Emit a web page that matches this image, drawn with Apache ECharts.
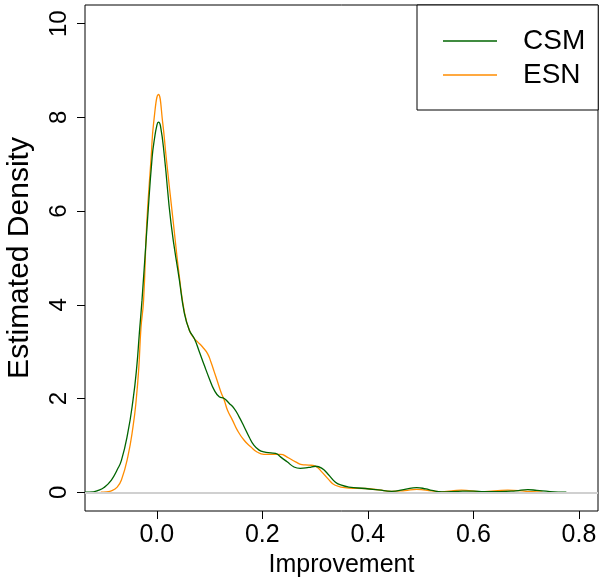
<!DOCTYPE html>
<html>
<head>
<meta charset="utf-8">
<script src="https://cdn.jsdelivr.net/npm/echarts@6/dist/echarts.min.js"></script>
<style>
html,body{margin:0;padding:0;background:#fff;}
#c{width:600px;height:588px;}
</style>
</head>
<body>
<div id="c"></div>
<script>
// ---- data ----
const csmX = [-0.136,-0.12,-0.111,-0.1,-0.086,-0.075,-0.067,-0.055,-0.045,-0.038,-0.033,-0.028,-0.018,-0.0087,-0.0043,0.0,0.003,0.007,0.0145,0.027,0.0428,0.0523,0.0617,0.0711,0.0806,0.09,0.0994,0.1089,0.1183,0.1277,0.137,0.1464,0.156,0.1655,0.175,0.1843,0.194,0.203,0.216,0.225,0.235,0.247,0.26,0.272,0.288,0.301,0.313,0.325,0.338,0.35,0.364,0.395,0.42,0.445,0.47,0.4925,0.51,0.521,0.54,0.571,0.6,0.62,0.65,0.68,0.703,0.72,0.745,0.776];
const csmY = [0,0.01,0.04,0.1,0.26,0.48,0.68,1.26,1.97,2.67,3.4,4.1,5.74,7.16,7.55,7.82,7.9,7.82,7.16,5.74,4.53,3.82,3.46,3.28,3.0,2.71,2.43,2.18,2.04,2.0,1.9,1.79,1.61,1.4,1.18,1.0,0.9,0.86,0.84,0.83,0.75,0.65,0.54,0.51,0.53,0.555,0.51,0.38,0.22,0.15,0.11,0.08,0.05,0.02,0.06,0.1,0.07,0.04,0.01,0.02,0.025,0.015,0.015,0.03,0.055,0.04,0.015,0];
const esnX = [-0.106,-0.095,-0.086,-0.075,-0.067,-0.055,-0.045,-0.039,-0.034,-0.03,-0.025,-0.019,-0.0106,-0.006,0.0032,0.0113,0.0177,0.0315,0.0428,0.0523,0.0617,0.0711,0.0774,0.0868,0.0962,0.1026,0.1089,0.1151,0.1215,0.1277,0.134,0.1434,0.1528,0.1655,0.178,0.19,0.203,0.219,0.235,0.247,0.263,0.275,0.288,0.3,0.313,0.325,0.338,0.364,0.395,0.42,0.445,0.47,0.4925,0.521,0.54,0.577,0.615,0.665,0.7,0.731];
const esnY = [0,0.01,0.03,0.11,0.26,0.75,1.4,1.97,2.67,3.5,4.1,5.74,7.16,7.88,8.49,7.88,7.16,5.74,4.6,3.85,3.46,3.28,3.21,3.1,2.96,2.78,2.57,2.36,2.14,1.97,1.75,1.54,1.32,1.11,0.97,0.86,0.81,0.81,0.81,0.75,0.65,0.59,0.58,0.56,0.43,0.28,0.15,0.09,0.08,0.05,0.02,0.035,0.06,0.03,0.01,0.045,0.01,0.045,0.02,0];
const xTicks = [0, 0.2, 0.4, 0.6, 0.8];
const yTicks = [0, 2, 4, 6, 8, 10];
const seriesNames = ['CSM', 'ESN'];
const seriesColors = ['#006400', '#FF8C00'];

const zip = (xs, ys) => xs.map((x, i) => [x, ys[i]]);
const FONT = '"Liberation Sans", Arial, Helvetica, sans-serif';

const chart = echarts.init(document.getElementById('c'), null, {renderer: 'canvas'});
chart.setOption({
  animation: false,
  backgroundColor: '#fff',
  textStyle: {fontFamily: FONT},
  grid: {left: 85, right: 2, top: 5, bottom: 77, containLabel: false, outerBoundsMode: 'none',
         show: true, borderColor: '#000', borderWidth: 1, backgroundColor: 'transparent'},
  legend: {
    left: 417, top: 5,
    orient: 'vertical',
    data: seriesNames.map((n, i) => ({name: n, icon: 'rect', itemStyle: {color: seriesColors[i], borderWidth: 0}})),
    itemWidth: 54, itemHeight: 1.4,
    itemGap: 6,
    padding: [22, 13, 21, 26],
    borderColor: '#000', borderWidth: 1, borderRadius: 0,
    backgroundColor: '#fff',
    textStyle: {fontSize: 28, color: '#000', fontFamily: FONT, padding: [0, 0, 0, 21]}
  },
  xAxis: {
    type: 'value', min: -0.136, max: 0.836,
    name: 'Improvement', nameLocation: 'middle', nameGap: 42,
    nameTextStyle: {fontSize: 25, color: '#000', fontFamily: FONT},
    axisLine: {show: false, onZero: false},
    splitLine: {show: false},
    axisTick: {show: true, inside: false, length: 8, customValues: xTicks, lineStyle: {color: '#000', width: 1}},
    axisLabel: {customValues: xTicks, formatter: v => v.toFixed(1), fontSize: 25, color: '#000', margin: 12, fontFamily: FONT}
  },
  yAxis: {
    type: 'value', min: -0.4, max: 10.4,
    name: 'Estimated Density', nameLocation: 'middle', nameGap: 50,
    nameTextStyle: {fontSize: 30, color: '#000', fontFamily: FONT},
    axisLine: {show: false, onZero: false},
    splitLine: {show: false},
    axisTick: {show: true, inside: false, length: 8, customValues: yTicks, lineStyle: {color: '#000', width: 1}},
    axisLabel: {customValues: yTicks, rotate: 90, fontSize: 24, color: '#000', margin: 14, fontFamily: FONT}
  },
  series: [
    {
      name: seriesNames[0], type: 'line', data: zip(csmX, csmY),
      smooth: 0.5, showSymbol: false, symbol: 'none',
      lineStyle: {color: seriesColors[0], width: 1.3}, itemStyle: {color: seriesColors[0]},
      markLine: {
        silent: true, symbol: 'none', label: {show: false},
        lineStyle: {color: '#d0d0d0', width: 2, type: 'solid'},
        data: [{yAxis: 0}]
      },
      z: 3
    },
    {
      name: seriesNames[1], type: 'line', data: zip(esnX, esnY),
      smooth: 0.5, showSymbol: false, symbol: 'none',
      lineStyle: {color: seriesColors[1], width: 1.3}, itemStyle: {color: seriesColors[1]},
      z: 2
    }
  ]
});
</script>
</body>
</html>
